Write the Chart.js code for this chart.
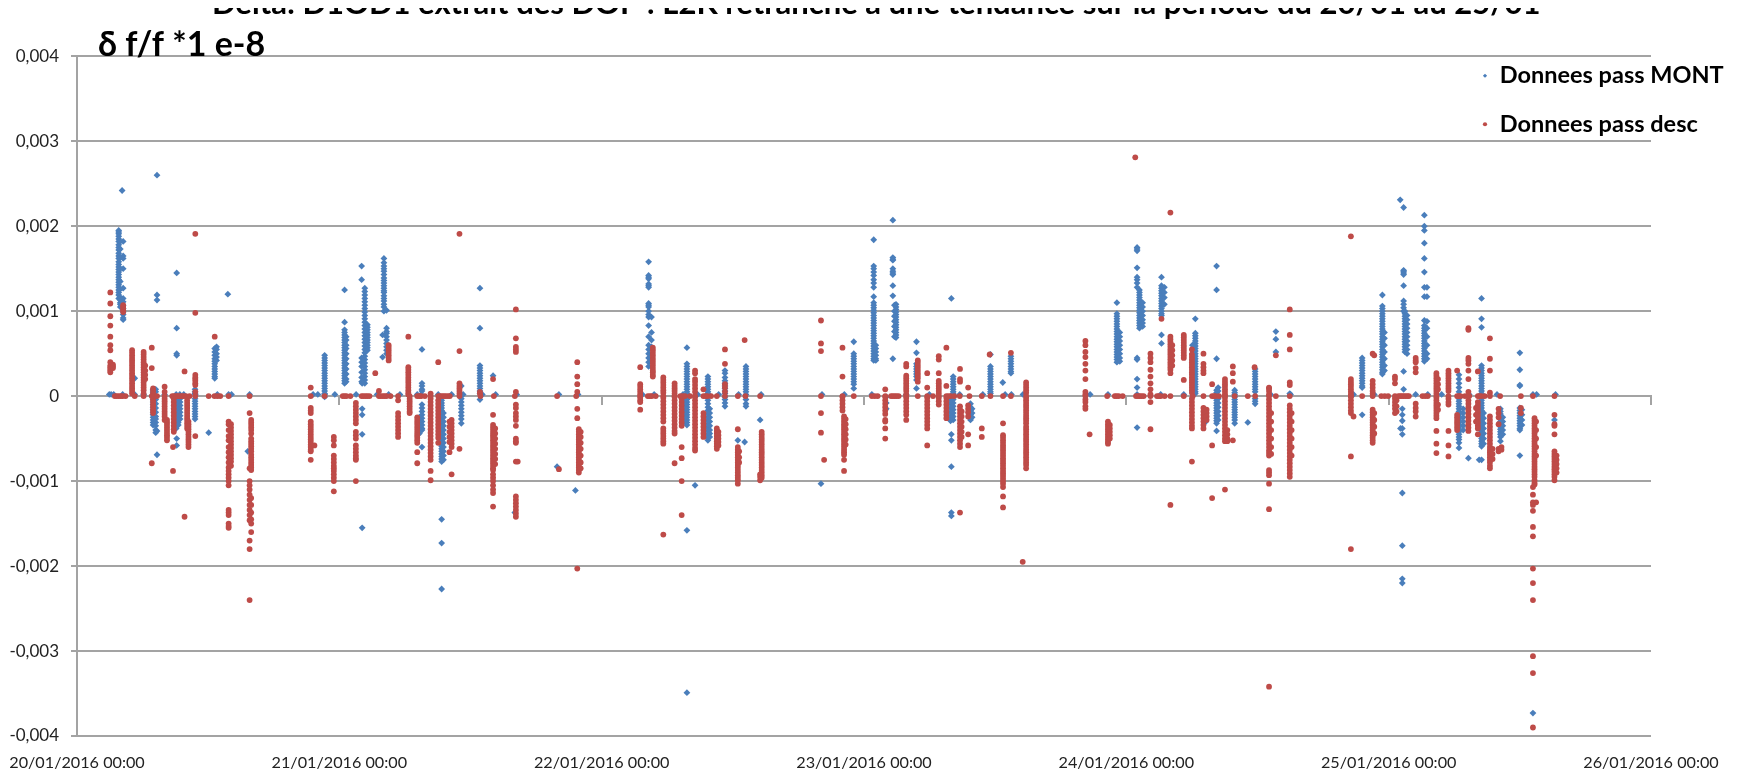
<!DOCTYPE html>
<html lang="fr">
<head>
<meta charset="utf-8">
<title>Delta</title>
<script src="https://cdn.jsdelivr.net/npm/chart.js@4"></script>
<style>html,body{margin:0;padding:0;background:#fff}canvas{display:block}</style>
</head>
<body>
<canvas id="c" width="1741" height="772"></canvas>
<script>
const chartTitle = "Delta: D1OD1 extrait des DOP : L2K retranche a une tendance sur la periode du 20/01 au 25/01";
const unitLabel = "\u03B4 f/f *1 e-8";
const seriesNames = ["Donnees pass MONT", "Donnees pass desc"];
const xTickLabels = ["20/01/2016 00:00","21/01/2016 00:00","22/01/2016 00:00","23/01/2016 00:00","24/01/2016 00:00","25/01/2016 00:00","26/01/2016 00:00"];

// x = days after 20/01/2016 00:00 ; y list = values in units of 1e-5
const montDay0 = [
[.159,[195,193,191,188,185,182,178,175,172,168,165,162,158,155,152,149,146,143,140,137,134,131,128,125,122,119,115]],
[.165,[182,173,163,150,135,126,116,113,110,108,105]],
[.176,[182,165,162,150,127,115,111,107,103,99,96,92,90]],
[.172,[242]],
[.305,[260,119,113]],
[.22,[21]],
[.29,[8,6,4,-4,-7,-10,-13,-16,-19,-22,-25,-28,-31,-34]],
[.3,[8,5,-4,-9,-14,-19,-24,-27,-31,-35,-40,-43]],
[.305,[-69,-41]],
[.38,[145,80,50,48,-50,-58]],
[.37,[-3,-7,-11,-15,-19,-23,-27,-31,-35,-39]],
[.378,[-3,-6,-10,-13,-17,-20,-24,-27,-31,-34,-38]],
[.386,[-3,-6,-10,-13,-17,-20,-24,-27,-31,-34]],
[.393,[-3,-7,-11,-15,-19,-23,-27]],
[.575,[120]],
[.525,[56,52,48,44,41,38,35,32,29,26,23,21]],
[.532,[58,55,50,46,42]],
[.45,[8,5,3,-3,-6,-9,-12,-15,-18,-21,-24,-27]],
[.502,[-43]],
[.651,[-65]]
];
const descDay0 = [
[.127,[122,109,94,83,70,60,54,40,36,34,32,30,28]],
[.137,[37,35,33]],
[.176,[107,105,103,101,99]],
[.21,[54,51,48,45,42,39,36,33,30,27,24,21,18,15,12,9,6,3]],
[.254,[52,49,46,43,40,37,34,31,28,25,22,19,16,13,10,7,3]],
[.26,[36,30,25,20]],
[.285,[57,33,-79]],
[.29,[9,6,3,-2,-5,-8,-11,-14,-17,-20]],
[.334,[11,5,-3,-6,-9,-12,-15,-18,-21,-24,-28]],
[.343,[-28,-31,-34,-37,-40,-43,-46,-49,-52]],
[.366,[-60,-88]],
[.369,[-3,-7,-11,-15,-19,-23,-27,-31,-35,-39,-42]],
[.41,[29,-142]],
[.42,[-5,-8,-11,-14,-17,-20,-23,-26,-29,-32,-35,-38]],
[.425,[-30,-33,-36,-39,-42,-45,-48,-51,-54,-57,-60]],
[.451,[191,98,25,22,20,18,15,13,5,-47]],
[.525,[70]],
[.578,[-30,-33,-40,-47,-52,-60,-66,-72,-78,-84,-88,-92,-96,-100,-105,-134,-137,-140,-150,-153,-155]],
[.587,[-33,-37,-41,-45,-49,-53,-57,-61,-65,-69,-73,-77,-82]],
[.658,[-20,-85,-100,-105,-110,-116,-122,-128,-134,-140,-146,-180,-170,-240]],
[.664,[-28,-31,-34,-37,-40,-44,-50,-53,-56,-59,-62,-65,-69,-72,-75,-78,-81,-84,-87,-120,-128,-137,-145,-150,-160]]
];
const montDay1 = [
[.944,[48,45,42,39,36,33,30,27,24,21,18,15,12,9,6,3,-1]],
[1.02,[125,87,78,75,72,69,66,63,60,57,54,51,48,45,42,39,36,33,30,27,24,21,18,15]],
[1.026,[70,66,60,56,50,44,38,32,26,20,17]],
[1.085,[153,137,45,40,35,28,22,17]],
[1.097,[127,123,119,115,111,107,103,99,95,91,87,83,79,75,71,67,63,59,55,51,47,43,39,35,31,27,23,19,15]],
[1.107,[84,81,78,75,72,69,66,63,60,57,54]],
[1.087,[15,-15,-22,-45,-155]],
[1.17,[162,157,153,150,147,143,139,136,133,130,127,124,122,118,115,112,108,105,100]],
[1.18,[101,80,76,74,70,66,62,58,54,50]],
[1.165,[72,46]],
[1.315,[55,12,8,6,15,-10,-14,-18,-22,-26,-30,-34,-38,-40,-60]],
[1.305,[-25,-28,-32,-36,-40,-44]],
[1.39,[-5,-8,-11,-14,-17,-20,-23,-26,-29,-32,-35,-38,-41,-44,-47,-50,-53,-56,-59,-62,-65,-68,-71,-74,-77,-145,-173,-227]],
[1.397,[-20,-25,-30,-35,-40,-45,-50,-55,-60,-65,-70,-75]],
[1.465,[-3,-7,-11,-15,-19,-23,-27,-32,12]],
[1.536,[127,80,36,33,30,27,24,21,18,15,12,9,6,3,-4]],
[1.586,[24]],
[1.669,[-137]],
[1.83,[-83]],
[1.9,[-111]]
];
const descDay1 = [
[.891,[10,-14,-17,-20,-30,-33,-36,-39,-42,-45,-48,-51,-54,-57,-60,-63,-65,-75]],
[.905,[-58]],
[.979,[-48,-52,-58,-70,-74,-78,-82,-85,-88,-92,-96,-100,-112]],
[1.063,[-8,-12,-16,-20,-24,-28,-32,-42,-46,-50,-58,-62,-66,-70,-73,-75,-100]],
[1.137,[27]],[1.151,[6]],
[1.188,[60,57,54,51,48,45,42]],
[1.224,[-5,-20,-24,-28,-32,-36,-40,-44,-48]],
[1.263,[70,34,31,28,25,22,19,16,13,10,7,4,2]],
[1.268,[-3,-6,-9,-12,-15,-18,-20]],
[1.297,[-25,-28,-31,-34,-37,-40,-43,-46,-49,-52,-55,-66,-79]],
[1.348,[3,-3,-7,-11,-15,-19,-23,-27,-31,-35,-39,-43,-47,-51,-55,-59,-63,-67,-71,-75,-88,-99]],
[1.377,[40,-5,-9,-13,-17,-21,-25,-29,-33,-37,-41,-45,-49,-55]],
[1.428,[-28,-32,-36,-40,-44,-48,-52,-56,-60,-92]],
[1.42,[-30,-36,-42,-48,-54,-66]],
[1.458,[191,53,15,12,9,6,3,-62]],
[1.536,[5,3]],
[1.586,[20,-22,-34,-37,-40,-43,-46,-49,-52,-55,-58,-61,-64,-67,-70,-73,-76,-79,-82,-85,-87,-92,-96,-100,-105,-110,-114,-130]],
[1.594,[-38,-44,-50,-56,-62,-68,-74,-80]],
[1.673,[102,68,58,55,52,5,-10,-14,-20,-24,-28,-35,-50,-53,-55,-77,-118,-122,-126,-130,-134,-138,-142]],
[1.68,[-77]],
[1.837,[-86]],
[1.907,[40,23,14,5,-15,-26,-203]],
[1.913,[-39,-42,-45,-48,-51,-54,-57,-60,-63,-66,-69,-72,-75,-78,-81,-84,-87,-90]],
[1.92,[-42,-48,-55,-62,-70,-78,-85]]
];
const montDay2 = [
[2.179,[158,142,140,138,132,130,128,109,107,105,100,96,93,83,70,60,55,50,45,40,35]],
[2.19,[93,75,66,58]],
[2.325,[57,38,35,32,29,26,23,20,17,14,11,8,5,3,-1,-4,-7,-10,-13,-16,-19,-22,-25,-28,-31,-34,-158,-349]],
[2.315,[-5,-10,-15,-20,-25,-30]],
[2.405,[23,20,17,14,11,8,5,3,-1,-5,-9,-13,-17,-21,-25,-29,-33,-37,-41,-45,-49,-52]],
[2.412,[-15,-20,-25,-30,-35,-40,-44,-48]],
[2.47,[30,27,22,18,15,12,9,6,3,-1,-4,-8,-12]],
[2.55,[35,32,29,26,23,20,17,14,11,8,5,2,-4,-9,-12]],
[2.604,[-28]],
[2.519,[-52]],[2.545,[-54]],
[2.356,[-105]],
[2.961,[64,50,47,44,41,38,35,32,29,26,23,20,17,14,9]],
[2.836,[-103]]
];
const descDay2 = [
[2.147,[34,14,11,8,5,2,-2,-5,-7,-16]],
[2.195,[57,54,51,48,45,42,39,36,33,30,28,25,23]],
[2.235,[22,19,16,13,10,7,4,-2,-6,-10,-14,-18,-22,-26,-30,-38,-41,-44,-47,-50,-53,-56,-163]],
[2.278,[15,12,9,6,3,-1,-5,-9,-13,-17,-21,-25,-29,-33,-37,-41,-44,-79]],
[2.305,[-60,-73,-100,-140,-3,-7,-11,-15,-19,-23,-27,-31,-35]],
[2.356,[30,27,20,17,13,9,5,-1,-5,-9,-13,-17,-21,-25,-29,-33,-37,-41,-45,-49,-53,-57,-61,-64]],
[2.388,[8,-20,-24,-28,-32,-36,-40,-44,-48]],
[2.439,[-38,-41,-44,-47,-50,-53,-56,-59,-62]],
[2.445,[-42,-46,-50,-54,-58]],
[2.47,[55,38,14,10,5]],
[2.545,[66]],
[2.519,[-39,-60,-63,-66,-69,-72,-75,-78,-81,-84,-87,-90,-93,-96,-99,-103]],
[2.524,[-65,-72,-78]],
[2.604,[-99,-95,-92]],
[2.61,[-42,-45,-48,-51,-54,-57,-60,-63,-66,-69,-72,-75,-78,-81,-84,-87,-90,-93,-96]],
[2.836,[89,62,53,-20,-43]],
[2.848,[-75]],
[2.918,[57,23,-1,-5,-9,-13,-17]],
[2.924,[-24,-27,-30,-33,-36,-39,-42,-45,-48,-51,-54,-57,-60,-63,-66,-69,-75,-88]],
[2.93,[-27,-33,-39,-45,-51,-57]]
];
const montDay3 = [
[3.037,[184,153,150,146,142,137,133,128,117,110,107,104,101,98,95,92,89,86,83,80,77,74,71,68,65,62,59,56,53,50,47,44,42]],
[3.045,[60,56,52,48,44,42]],
[3.11,[207,163,161,160,150,147,145,143,130,118,44]],
[3.122,[108,105,102,99,96,93,90,87,84,81,78,75,72,69]],
[3.116,[107,100,94,88,82,76,70]],
[3.2,[64,51,38,35,32,29,26,23,19,9]],
[3.333,[115,-45,-52,-83,-137,-141]],
[3.34,[23,20,17,14,11,8,5,3,-1,-4,-8,-12,-16,-20,-24,-28]],
[3.33,[-4,-9,-14,-19,-24,-29]],
[3.406,[-9,-13,-17,-21,-25,-28]],
[3.412,[-15,-20,-25]],
[3.482,[49,35,32,29,26,23,20,17,14,11,8,5,3]],
[3.529,[16]],
[3.56,[47,44,41,38,35,32,29,27]],
[3.085,[-1,-8,-15]]
];
const descDay3 = [
[3.081,[8,-1,-5,-9,-13,-17,-21,-28,-30,-38,-50]],
[3.161,[38,35,24,21,18,15,12,9,6,2,-2,-6,-10,-14,-18,-22,-28]],
[3.205,[42,39,36,33,30,27,24,21,17]],
[3.241,[27,10,-2,-6,-10,-14,-18,-22,-26,-30,-34,-38,-58]],
[3.285,[47,43,27,18,15,12,9,6,3,-2,-6,-10]],
[3.314,[57,12,-2,-6,-10,-14,-18,-22,-26]],
[3.366,[32,20,17,-12,-16,-20,-24,-28,-32,-36,-40,-44,-48,-52,-56,-60,-137]],
[3.372,[-18,-24,-30,-36,-42,-48]],
[3.397,[10,-11,-15,-19,-24,-45,-58]],
[3.449,[-38,-48]],
[3.479,[49]],
[3.56,[51]],
[3.618,[16,13,10,7,4,-2,-5,-8,-11,-14,-17,-20,-23,-26,-29,-32,-36,-39,-42,-45,-48,-51,-54,-57,-60,-63,-66,-69,-72,-75,-78,-81,-85]],
[3.53,[-32,-107,-118,-131,-46,-49,-52,-55,-58,-61,-64,-67,-70,-73,-76,-79,-82,-85,-88,-91,-94,-97,-100,-103]],
[3.605,[-195]]
];
const montDay4 = [
[3.964,[110,97,94,91,88,85,82,79,76,73,70,67,64,61,58,55,52,49,46,43,40]],
[3.975,[75,70,65,60,55,50,45,41]],
[4.041,[175,173,171,151,140,137,133,128,45,43,20,10,-37]],
[4.05,[125,122,119,116,113,110,107,104,101,98,95,92,89,86,83,80]],
[4.062,[110,105,100,95,90,86,82]],
[4.134,[140,130,127,124,121,118,115,112,109,106,103,100,97,95,72,62]],
[4.145,[128,122,116,108]],
[4.263,[91,74,71,68,65,62,59,56,53,50,47,44,41,38,35,32,29,26,23,20,17,14,11,8,5,3]],
[4.252,[60,50,42,34,26]],
[4.344,[153,125,44,7,4,2,-2,-5,-8,-11,-14,-17,-20,-23,-26,-29,-32,-41]],
[4.35,[10,6,-3,-8,-13,-18,-23,-28]],
[4.3,[-31]],
[4.413,[7,4,-1,-4,-7,-10,-13,-16,-19,-22,-25,-28,-32]],
[4.463,[-31]],
[4.491,[32,29,26,23,20,17,14,11,8,5,-3,-6,-9]],
[4.57,[76,67,52]],
[4.623,[3]]
];
const descDay4 = [
[3.844,[65,60,52,46,38,30,20,5,2,-4,-7,-12,-15]],
[3.86,[-45]],
[3.93,[-30,-33,-36,-39,-42,-45,-48,-51,-54,-56]],
[3.937,[-34,-38,-42,-46,-50]],
[4.034,[281]],
[4.092,[50,45,40,31,23,15,8,2,-7,-39]],
[4.134,[91]],
[4.168,[216,70,67,64,61,58,55,52,49,46,43,40,37,34,31,27,-128]],
[4.175,[60,54,48,42,36]],
[4.219,[72,69,66,63,60,57,54,51,48,45,19]],
[4.25,[55,49,46,43,40,37,34,31,28,25,22,19,16,13,10,7,4,-3,-7,-11,-15,-19,-23,-27,-31,-35,-38,-77]],
[4.294,[50,38,34,30,27,-14,-18,-22,-26,-30,-34,-38]],
[4.306,[-16,-20,-24,-28]],
[4.327,[14,-58,-120]],
[4.376,[20,17,14,11,8,5,2,-2,-6,-10,-14,-18,-22,-26,-30,-34,-38,-42,-46,-50,-53,-110]],
[4.385,[-40,-45,-50,-53]],
[4.406,[35,27,17,-52]],
[4.489,[34]],
[4.544,[10,9,6,2,-4,-8,-12,-16,-20,-24,-28,-32,-36,-40,-44,-48,-52,-56,-60,-64,-67,-70,-87,-90,-93,-103,-133,-342]],
[4.552,[-20,-30,-40,-50,-60,-68]],
[4.57,[48]],
[4.623,[102,72,55,16,13,-11,-15,-19,-23,-27,-31,-35,-39,-43,-47,-51,-55,-59,-63,-67,-71,-75,-79,-83,-87,-91,-95]],
[4.63,[-20,-30,-40,-50,-60,-70]]
];
const montDay5 = [
[4.899,[45,42,39,36,33,30,27,24,21,18,15,12,10,-22]],
[4.976,[119,106,103,100,97,94,91,88,85,82,79,76,73,70,67,64,61,58,55,52,49,46,43,40,37,34,31,28,26]],
[4.984,[75,68,60,52,44,36,30]],
[5.044,[231]],
[5.057,[222,148,147,145,143,130,112,108,104,100,29,8]],
[5.062,[100,97,94,91,88,85,82,79,76,73,70,67,64,61,58,55,52]],
[5.07,[95,90,85,80,75,70,65,60,55,50]],
[5.136,[213,200,195,180,162,146,128,117,89,83,80,77,74,71,68,65,62,59,56,53,50,47,44,41]],
[5.146,[128,117,88,80,70,60,50,44]],
[5.052,[-15,-22,-29,-38,-45,-114,-176,-215,-220]],
[5.045,[-38]],
[5.268,[25,20,15,10,5,-3,-6,-9,-12,-15,-18,-21,-24,-27,-30,-33,-36,-39,-42,-45,-48,-51,-55,-61]],
[5.284,[-15,-20,-25,-30,-35,-40]],
[5.304,[-73]],
[5.354,[115,91,81,36,33,30,27,24,21,18,15,12,9,6,3,-2,-5,-8,-11,-14,-17,-20,-23,-26,-29,-32,-35,-38,-41,-44,-47,-50,-53,-56,-59,-75]],
[5.362,[-20,-26,-32,-38,-44,-50,-56]],
[5.345,[-75]],
[5.426,[-15,-18,-21,-24,-27,-30,-33,-36,-39,-42,-45,-48,-53]],
[5.435,[-25,-30,-35,-40,-45]],
[5.5,[51,31,12,13,-70,-14,-17,-20,-23,-26,-29,-32,-35,-38,-40]],
[5.508,[-16,-22,-28,-34]],
[5.55,[-373]],
[5.632,[-28]]
];
const descDay5 = [
[4.856,[188,20,17,14,11,8,5,2,-1,-5,-9,-13,-17,-20,-71,-180]],
[4.866,[-24]],
[4.939,[50,18,14,10,6,3,-16,-19,-22,-25,-28,-31,-34,-37,-40,-43,-46,-49,-52,-55]],
[4.945,[48,-20,-28,-36,-44]],
[5.024,[23,20,15,-3,-7,-11,-15,-20]],
[5.03,[-5,-12,-18]],
[5.103,[45,42,40,33,28,-9,-14,-18,-24]],
[5.182,[27,24,21,18,15,12,9,6,3,-2,-5,-8,-11,-14,-17,-20,-23,-26,-41,-56,-67]],
[5.188,[20,14,8,-10,-16]],
[5.228,[30,27,24,21,18,15,12,9,6,-3,-7,-10,-41,-58,-71]],
[5.261,[30,-22,-25,-28,-31,-34,-37,-40]],
[5.304,[80,78,45,42,38,30,20,5,-5,-9,-13,-17,-21,-25,-29,-33,-37,-41]],
[5.34,[29,-7,-11,-15,-19,-23,-27,-31,-35,-38,-45]],
[5.333,[-14,-22,-30]],
[5.386,[68,44,30,4,-24,-28,-32,-36,-40,-44,-48,-52,-56,-60,-63,-66,-69,-72,-75,-78,-82,-85]],
[5.396,[-62,-68,-74]],
[5.419,[-15,-20,-25,-33,-62,-65]],
[5.43,[-63,-60]],
[5.504,[-14,-20]],
[5.55,[-107,-116,-128,-125,-135,-154,-165,-203,-220,-240,-306,-326,-390]],
[5.556,[-26,-29,-32,-35,-38,-41,-44,-47,-50,-53,-56,-59,-62,-65,-68,-71,-74,-77,-80,-83,-86,-89,-92,-95,-99,-102,-104]],
[5.562,[-30,-40,-50,-60,-70,-125]],
[5.632,[-22,-33,-35,-45,-65,-68,-71,-74,-77,-80,-83,-86,-89,-92,-95,-99]],
[5.64,[-70,-75,-80,-85,-90]]
];

// points lying on the zero line
const montZeroLevel = 2;
const montZeroDays = [.123,.13,.14,.174,.22,.254,.29,.334,.378,.392,.407,.451,.535,.578,.589,.658,.9,.918,.944,.983,1.064,1.144,1.188,1.231,1.297,1.312,1.377,1.428,1.472,1.545,1.596,1.676,1.837,1.91,2.155,2.2,2.31,2.366,2.446,2.522,2.608,2.84,2.925,3.03,3.161,3.249,3.365,3.453,3.538,3.562,3.606,3.862,3.93,4.041,4.131,4.219,4.413,4.55,4.626,4.866,4.945,5.103,5.149,5.202,5.307,5.413,5.55,5.564,5.636];
const descZeroLevel = 0;
const descZeroDays = [.144,.151,.159,.167,.174,.185,.22,.254,.285,.305,.334,.363,.37,.378,.385,.392,.4,.407,.415,.429,.451,.502,.524,.535,.546,.578,.658,.891,.944,1.013,1.02,1.027,1.042,1.085,1.092,1.1,1.107,1.115,1.151,1.158,1.166,1.173,1.18,1.195,1.224,1.268,1.297,1.305,1.312,1.326,1.348,1.377,1.385,1.392,1.399,1.406,1.414,1.421,1.458,1.538,1.589,1.669,1.83,1.903,2.147,2.176,2.184,2.191,2.206,2.235,2.278,2.3,2.309,2.318,2.337,2.356,2.388,2.396,2.403,2.417,2.439,2.47,2.519,2.548,2.604,2.836,2.918,2.961,3.03,3.041,3.052,3.081,3.103,3.11,3.117,3.124,3.132,3.161,3.205,3.241,3.263,3.285,3.314,3.322,3.33,3.344,3.365,3.402,3.449,3.482,3.53,3.56,3.618,3.844,3.927,3.956,3.963,3.971,3.986,4.037,4.044,4.051,4.058,4.066,4.092,4.117,4.124,4.131,4.146,4.168,4.219,4.253,4.294,4.327,4.334,4.34,4.353,4.376,4.413,4.463,4.491,4.544,4.57,4.623,4.856,4.899,4.939,4.972,4.985,4.998,5.024,5.037,5.044,5.05,5.057,5.064,5.071,5.077,5.129,5.139,5.149,5.182,5.228,5.261,5.268,5.274,5.291,5.307,5.34,5.346,5.353,5.366,5.386,5.425,5.504,5.55,5.632];

const valueUnit = 1e-5;
function points(groups, zeroDays, zeroLevel) {
  const out = [];
  for (const g of groups) for (const [day, ys] of g) for (const y of ys) out.push({x: day, y: y * valueUnit});
  for (const d of zeroDays) out.push({x: d, y: zeroLevel * valueUnit});
  return out;
}
const lineGray = "#a3a3a3";
const textFont = "Lato";
const placeBoxes = {
  id: "placeBoxes",
  afterLayout(chart) {
    const t = chart.titleBlock;
    t.left = 212; t.right = 1741; t.top = -3; t.bottom = 11;
    const s = chart.boxes.find(b => b.options && b.options.text === unitLabel);
    if (s) { s.left = 98; s.right = 500; s.top = 38; s.bottom = 52; }
    const l = chart.legend;
    const w = l.width, h = l.height;
    l.left = 1457; l.right = 1457 + w; l.top = 39; l.bottom = 39 + h;
    l.adjustHitBoxes();
  },
  afterDraw(chart) {
    const c = chart.ctx;
    c.save(); c.fillStyle = "#fff"; c.fillRect(0, 0, chart.width, 8); c.restore();
  }
};
new Chart(document.getElementById("c"), {
  type: "scatter",
  plugins: [placeBoxes],
  data: { datasets: [
    { label: seriesNames[0], order: 2, data: points([montDay0,montDay1,montDay2,montDay3,montDay4,montDay5], montZeroDays, montZeroLevel),
      pointStyle: "rectRot", pointRadius: 3.4, backgroundColor: "#4a7ebb", borderColor: "#4a7ebb", borderWidth: 0 },
    { label: seriesNames[1], order: 1, data: points([descDay0,descDay1,descDay2,descDay3,descDay4,descDay5], descZeroDays, descZeroLevel),
      pointStyle: "circle", pointRadius: 2.9, backgroundColor: "#be4b48", borderColor: "#be4b48", borderWidth: 0 }
  ]},
  options: {
    responsive: false, animation: false,
    layout: { autoPadding: false, padding: { top: 28, right: 90, left: 0, bottom: 0 } },
    plugins: {
      tooltip: { enabled: false },
      title: { display: true, text: chartTitle, align: "start", padding: 0, color: "#000",
               font: { family: textFont, size: 31, weight: "bold", lineHeight: 0.45 } },
      subtitle: { display: true, text: unitLabel, align: "start", padding: 0, color: "#000",
               font: { family: textFont, size: 34, weight: "bold", lineHeight: 0.42 } },
      legend: { position: "chartArea", align: "start",
        labels: { usePointStyle: true, boxWidth: 6, boxHeight: 3, padding: 25, color: "#000",
                  sort: (a, b) => a.datasetIndex - b.datasetIndex,
                  font: { family: textFont, size: 23.5, weight: "bold" } } }
    },
    scales: {
      x: { type: "linear", position: "bottom", min: 0, max: 6,
           afterFit(s) { s.height = 36; },
           border: { display: false }, grid: { display: false },
           ticks: { stepSize: 1, autoSkip: false, maxRotation: 0, padding: 9, color: "#222",
                    font: { family: textFont, size: 16.2 }, callback: v => xTickLabels[v] } },
      x2: { type: "linear", axis: "x", position: { y: 0 }, min: 0, max: 6,
           border: { color: lineGray, width: 2 },
           grid: { drawOnChartArea: false, drawTicks: true, tickLength: 8, color: lineGray, lineWidth: 2 },
           ticks: { display: false, stepSize: 1 } },
      y: { type: "linear", min: -0.004, max: 0.004,
           afterFit(s) { s.width = 77; },
           border: { color: lineGray, width: 2 },
           grid: { color: lineGray, lineWidth: 2, tickLength: 6, tickColor: lineGray },
           ticks: { stepSize: 0.001, padding: 12, color: "#222", font: { family: textFont, size: 17 },
                    callback: v => Math.abs(v) < 1e-9 ? "0" : v.toFixed(3).replace(".", ",") } }
    }
  }
});
</script>
</body>
</html>
